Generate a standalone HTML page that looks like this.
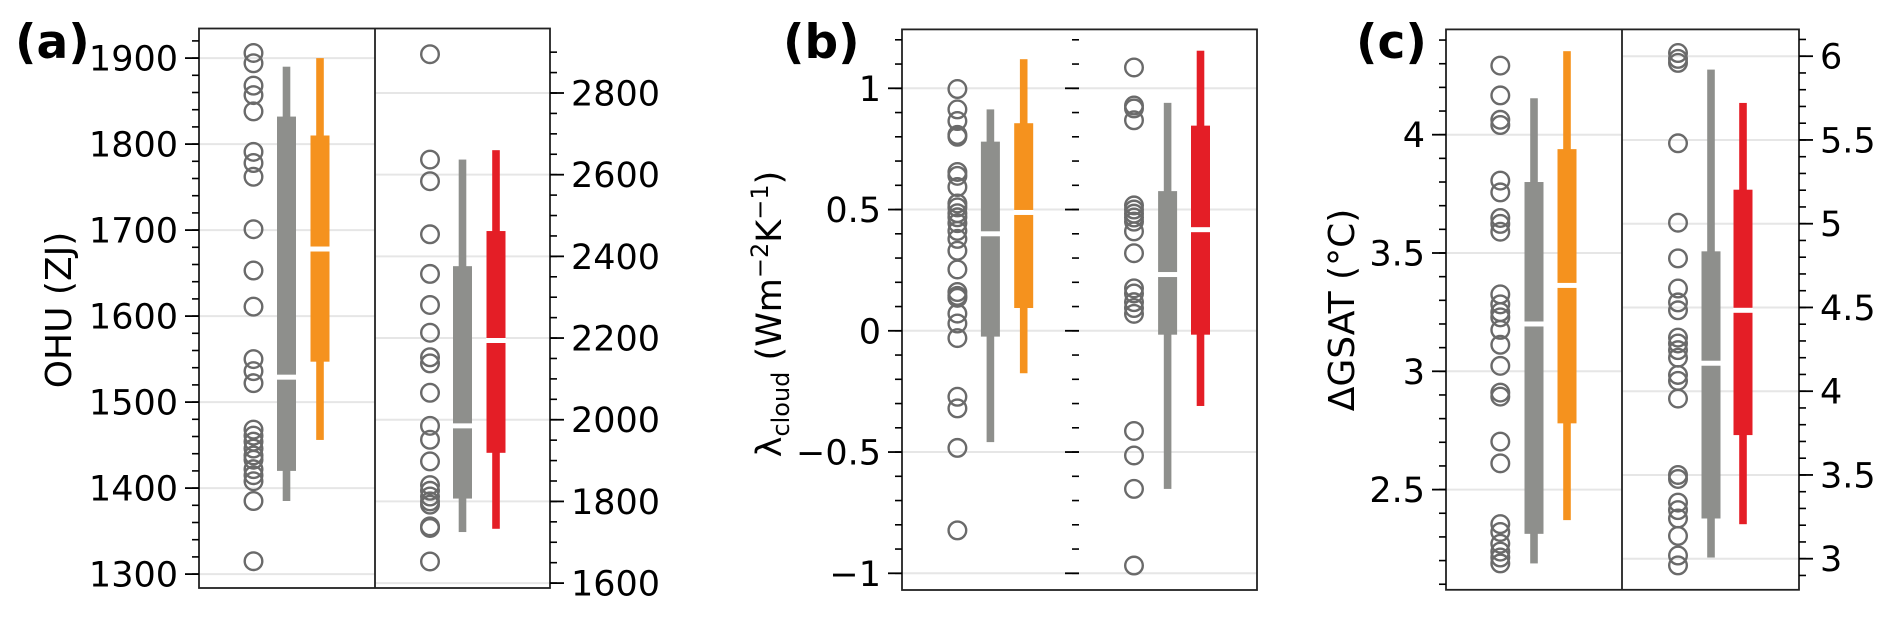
<!DOCTYPE html>
<html><head><meta charset="utf-8">
<style>
html,body{margin:0;padding:0;background:#fff;}
svg{display:block;font-family:"DejaVu Sans","Liberation Sans",sans-serif;}
</style></head>
<body>
<svg id="fig" width="1892" height="617" viewBox="0 0 1892 617" xmlns="http://www.w3.org/2000/svg"></svg>
<script>
// ---------- Panel (a): OHU ----------
const aLeftCircles = [1906,1894,1868,1857,1838,1791,1778,1762,1701,1653,1611,1550,1536,1522,1468,1461,1454,1446,1438,1433,1422,1415,1408,1385,1315];
const aLeftGray = [1385,1420,1529,1832,1890];
const aLeftOrange = [1456,1547,1678,1810,1900];
const aRightCircles = [2895,2637,2584,2454,2357,2281,2213,2153,2138,2066,1985,1951,1898,1840,1826,1812,1800,1792,1739,1735,1653];
const aRightGray = [1725,1807,1985,2376,2637];
const aRightRed = [1733,1919,2194,2462,2660];
const aLeftTicks = [1300,1400,1500,1600,1700,1800,1900];
const aRightTicks = [1600,1800,2000,2200,2400,2600,2800];
// ---------- Panel (b): lambda cloud ----------
const bLeftCircles = [0.997,0.913,0.865,0.808,0.8,0.655,0.639,0.593,0.525,0.509,0.485,0.468,0.444,0.412,0.379,0.33,0.253,0.16,0.144,0.136,0.071,0.03,-0.03,-0.272,-0.32,-0.483,-0.823];
const bLeftGray = [-0.459,-0.024,0.4,0.78,0.913];
const bLeftOrange = [-0.175,0.094,0.488,0.856,1.12];
const bRightCircles = [1.086,0.929,0.917,0.868,0.517,0.5,0.483,0.467,0.45,0.41,0.32,0.175,0.154,0.118,0.094,0.07,-0.413,-0.514,-0.652,-0.968];
const bRightGray = [-0.652,-0.016,0.232,0.576,0.94];
const bRightRed = [-0.31,-0.016,0.417,0.846,1.155];
const bTicks = [-1,-0.5,0,0.5,1];
const bTickLabels = ["\u22121","\u22120.5","0","0.5","1"];
// ---------- Panel (c): dGSAT ----------
const cLeftCircles = [4.292,4.166,4.063,4.041,3.806,3.756,3.648,3.623,3.59,3.325,3.283,3.25,3.228,3.175,3.112,3.023,2.91,2.893,2.703,2.611,2.354,2.321,2.271,2.238,2.213,2.188];
const cLeftGray = [2.188,2.313,3.2,3.8,4.154];
const cLeftOrange = [2.371,2.78,3.363,3.939,4.353];
const cRightCircles = [6.019,5.984,5.96,5.48,5.006,4.793,4.613,4.53,4.483,4.32,4.285,4.245,4.2,4.097,4.062,3.956,3.5,3.476,3.335,3.29,3.24,3.136,3.019,2.96];
const cRightGray = [3.007,3.24,4.167,4.835,5.92];
const cRightRed = [3.206,3.738,4.483,5.203,5.721];
const cLeftTicks = [2.5,3,3.5,4];
const cLeftTickLabels = ["2.5","3","3.5","4"];
const cRightTicks = [3,3.5,4,4.5,5,5.5,6];
const cRightTickLabels = ["3","3.5","4","4.5","5","5.5","6"];

const NS = "http://www.w3.org/2000/svg";
const svg = document.getElementById('fig');
function mk(tag, attrs, parent){
  const e = document.createElementNS(NS, tag);
  for (const k in attrs) e.setAttribute(k, attrs[k]);
  (parent||svg).appendChild(e);
  return e;
}
function linScale(v0, p0, v1, p1){ return v => p0 + (v - v0) * (p1 - p0) / (v1 - v0); }

function drawCircles(vals, x, y, name){
  const g = mk('g', {});
  
  
  vals.forEach(v => {
    const c = mk('circle', {cx:x, cy:y(v), r:8.8, fill:'none', stroke:'#6a6a6a', 'stroke-width':2.4}, g);
    
    
  });
}
function drawBox(st, x, y, color, name){
  const g = mk('g', {});
  
  
  const w = mk('rect', {x:x-3.8, y:y(st[4]), width:7.6, height:y(st[0])-y(st[4]), fill:color}, g);
  
  
  const b = mk('rect', {x:x-9.5, y:y(st[3]), width:19, height:y(st[1])-y(st[3]), fill:color}, g);
  
  
  const m = mk('rect', {x:x-10, y:y(st[2])-2.5, width:20, height:5, fill:'#fff'}, g);
  
  
}
function grid(y, ticks, x0, x1){
  ticks.forEach(t => {
    const l = mk('line', {x1:x0, x2:x1, y1:y(t), y2:y(t), stroke:'#e6e6e6', 'stroke-width':2});
    
    
  });
}
function axisTicks(y, ticks, labels, minorStep, vmin, vmax, xAxis, side, name, showLabels){
  const g = mk('g', {});
  
  
  const dir = side === 'left' ? -1 : 1;
  const n0 = Math.ceil(vmin / minorStep - 1e-6), n1 = Math.floor(vmax / minorStep + 1e-6);
  for (let i = n0; i <= n1; i++){
    const v = i * minorStep;
    mk('line', {x1:xAxis, x2:xAxis + dir*7, y1:y(v), y2:y(v), stroke:'#000', 'stroke-width':1.6}, g);
  }
  ticks.forEach((t, i) => {
    mk('line', {x1:xAxis, x2:xAxis + dir*14, y1:y(t), y2:y(t), stroke:'#000', 'stroke-width':1.8}, g);
    if (showLabels){
      const tx = mk('text', {x:xAxis + dir*21, y:y(t)+12.5, 'font-size':35, 'text-anchor': side==='left'?'end':'start', fill:'#000'}, g);
      tx.textContent = labels[i];
      
      
    }
  });
}
function frame(x0, y0, x1, y1, name){
  const r = mk('rect', {x:x0, y:y0, width:x1-x0, height:y1-y0, fill:'none', stroke:'#222', 'stroke-width':1.8});
  
  
}
function label(txt, x, y, name){
  const t = mk('text', {x:x, y:y, 'font-size':47, 'font-weight':'bold', fill:'#000'});
  t.textContent = txt;
  
  
}

// ===== Panel a =====
(function(){
  const L=199, R=550, D=375, T=28.5, B=588;
  const yl = linScale(1900, 58.1, 1300, 574.1);
  const yr = linScale(2800, 93.0, 1600, 583.1);
  grid(yl, aLeftTicks, L, D);
  grid(yr, aRightTicks, D, R);
  drawCircles(aLeftCircles, 253.5, yl, 'a-left-models');
  drawBox(aLeftGray, 286.5, yl, '#8e8f8c', 'a-left-gray-box');
  drawBox(aLeftOrange, 320, yl, '#f5921e', 'a-left-orange-box');
  drawCircles(aRightCircles, 430, yr, 'a-right-models');
  drawBox(aRightGray, 462.5, yr, '#8e8f8c', 'a-right-gray-box');
  drawBox(aRightRed, 496, yr, '#e41e26', 'a-right-red-box');
  frame(L, T, R, B, 'panel-a-frame');
  const d = mk('line', {x1:D, x2:D, y1:T, y2:B, stroke:'#222', 'stroke-width':1.8});
   
  axisTicks(yl, aLeftTicks, aLeftTicks.map(String), 20, 1290, 1930, L, 'left', 'a-left-y-axis', true);
  axisTicks(yr, aRightTicks, aRightTicks.map(String), 50, 1600, 2900, R, 'right', 'a-right-y-axis', true);
  label('(a)', 15, 58, 'panel-a-label');
  const yt = mk('text', {x:0, y:0, 'font-size':36, 'text-anchor':'middle', transform:'translate(71,310) rotate(-90)'});
  yt.textContent = 'OHU (ZJ)';
   
})();

// ===== Panel b =====
(function(){
  const L=902, R=1257, D=1079, T=29.4, B=590;
  const y = linScale(1, 88.3, -1, 573.3);
  grid(y, bTicks, L, R);
  drawCircles(bLeftCircles, 957.4, y, 'b-left-models');
  drawBox(bLeftGray, 990.4, y, '#8e8f8c', 'b-left-gray-box');
  drawBox(bLeftOrange, 1023.7, y, '#f5921e', 'b-left-orange-box');
  drawCircles(bRightCircles, 1134, y, 'b-right-models');
  drawBox(bRightGray, 1167.6, y, '#8e8f8c', 'b-right-gray-box');
  drawBox(bRightRed, 1200.5, y, '#e41e26', 'b-right-red-box');
  frame(L, T, R, B, 'panel-b-frame');
  axisTicks(y, bTicks, bTickLabels, 0.1, -1.05, 1.2, L, 'left', 'b-y-axis', true);
  axisTicks(y, bTicks, bTickLabels, 0.1, -1.05, 1.2, D, 'left', 'b-middle-ticks', false);
  label('(b)', 783, 58, 'panel-b-label');
  const yt = mk('text', {x:0, y:0, 'font-size':35, 'text-anchor':'middle', transform:'translate(781,314) rotate(-90)'});
   
  yt.innerHTML = 'λ<tspan font-size="24" dy="8">cloud</tspan><tspan dy="-8"> (Wm</tspan><tspan font-size="24" dy="-13">−2</tspan><tspan dy="13">K</tspan><tspan font-size="24" dy="-13">−1</tspan><tspan dy="13">)</tspan>';
})();

// ===== Panel c =====
(function(){
  const L=1446, R=1799, D=1622, T=29.4, B=589.8;
  const yl = linScale(4, 134.7, 2.5, 489.6);
  const yr = linScale(6, 56.2, 3, 558.7);
  grid(yl, cLeftTicks, L, D);
  grid(yr, cRightTicks, D, R);
  drawCircles(cLeftCircles, 1500.3, yl, 'c-left-models');
  drawBox(cLeftGray, 1534, yl, '#8e8f8c', 'c-left-gray-box');
  drawBox(cLeftOrange, 1567, yl, '#f5921e', 'c-left-orange-box');
  drawCircles(cRightCircles, 1678, yr, 'c-right-models');
  drawBox(cRightGray, 1711, yr, '#8e8f8c', 'c-right-gray-box');
  drawBox(cRightRed, 1743, yr, '#e41e26', 'c-right-red-box');
  frame(L, T, R, B, 'panel-c-frame');
  const d = mk('line', {x1:D, x2:D, y1:T, y2:B, stroke:'#222', 'stroke-width':1.8});
   
  axisTicks(yl, cLeftTicks, cLeftTickLabels, 0.1, 2.1, 4.45, L, 'left', 'c-left-y-axis', true);
  axisTicks(yr, cRightTicks, cRightTickLabels, 0.1, 2.9, 6.1, R, 'right', 'c-right-y-axis', true);
  label('(c)', 1356, 58, 'panel-c-label');
  const yt = mk('text', {x:0, y:0, 'font-size':36, 'text-anchor':'middle', transform:'translate(1354,310) rotate(-90)'});
  yt.textContent = 'ΔGSAT (°C)';
   
})();
</script>
</body></html>
